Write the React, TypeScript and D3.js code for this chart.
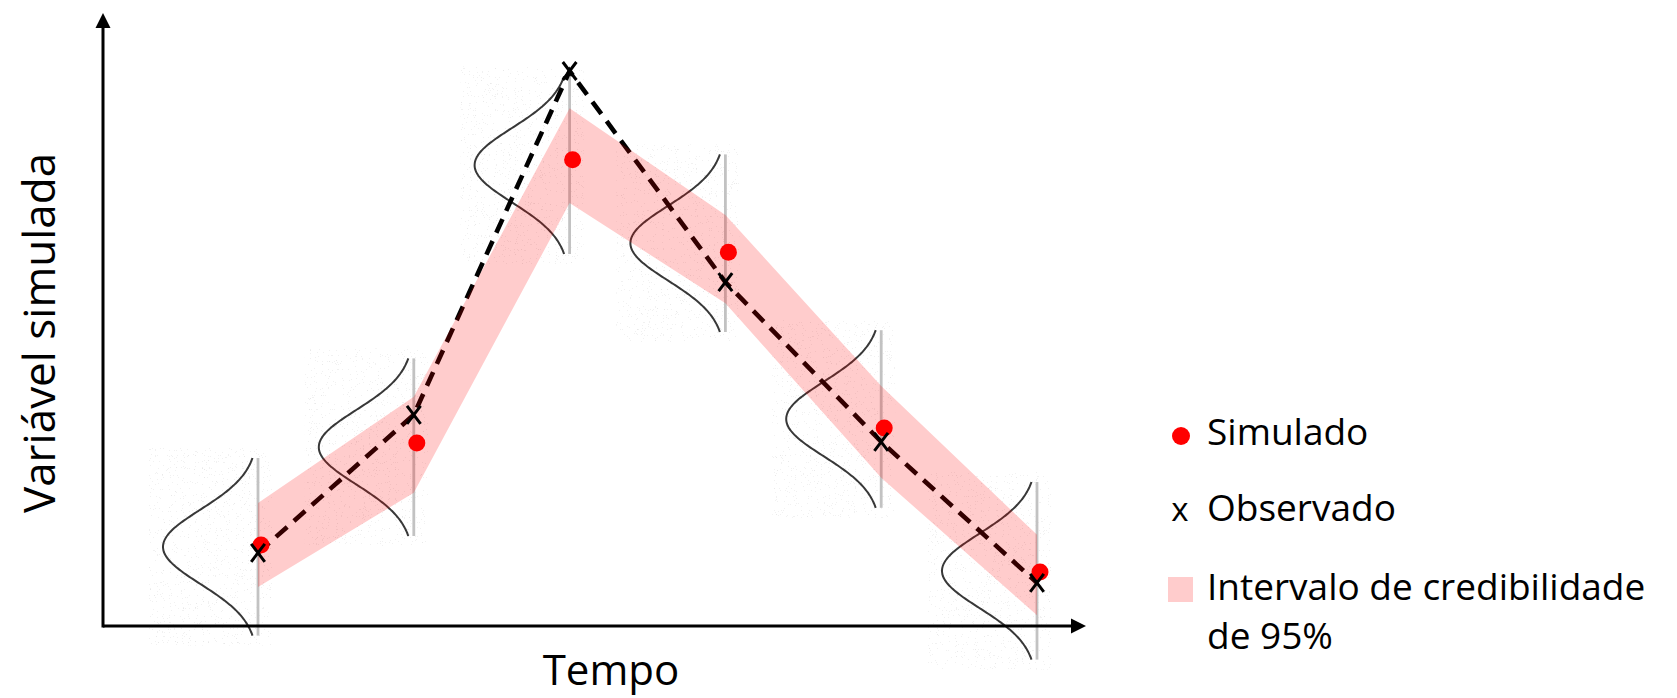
import React from 'react';
import * as d3 from 'd3';

// Time steps and series (values in arbitrary units of the simulated variable)
const timeSteps = [1, 2, 3, 4, 5, 6];
const observed = [12.2, 35.2, 92.5, 57.3, 30.7, 7.2];
const simulated = [13.5, 30.5, 77.7, 62.3, 33.0, 9.0];
const ciUpper = [20.5, 38.2, 86.3, 68.5, 40.0, 15.2];
const ciLower = [6.5, 22.2, 70.5, 53.8, 24.7, 1.8];
// Centre of the predictive density sketched at each time step
const densityCenter = [13.2, 29.8, 76.8, 63.8, 34.5, 9.2];
const densitySigma = 6.2;
const densityHalfSpan = 14.8;

const xAxisLabel = 'Tempo';
const yAxisLabel = 'Variável simulada';
const legendSimulated = 'Simulado';
const legendObserved = 'Observado';
const legendInterval = ['Intervalo de credibilidade', 'de 95%'];

const W = 1677;
const H = 698;
const FONT = "'Open Sans', 'Noto Sans', sans-serif";

export default function App() {
  const x = d3.scaleLinear().domain([1, 6]).range([258, 1037]);
  const y = d3.scaleLinear().domain([0, 100]).range([626, 26]);

  const originX = 103;
  const originY = y(0);
  const xTip = 1086;
  const yTip = 13;
  const arrowLen = 15;
  const arrowHalf = 7.5;
  const densityAmp = 95;

  const obsLine = d3
    .line<number>()
    .x((_, i) => x(timeSteps[i]))
    .y((d) => y(d))(observed) as string;

  const band = d3
    .area<number>()
    .x((_, i) => x(timeSteps[i]))
    .y0((_, i) => y(ciLower[i]))
    .y1((d) => y(d))(ciUpper) as string;

  const densityPaths = densityCenter.map((c, i) => {
    const lx = x(timeSteps[i]);
    const vals = d3.range(c - densityHalfSpan, c + densityHalfSpan + 0.001, 0.2);
    const pts: [number, number][] = vals.map((v) => [
      lx - densityAmp * Math.exp(-((v - c) ** 2) / (2 * densitySigma ** 2)),
      y(v),
    ]);
    return {
      lx,
      top: y(c + densityHalfSpan),
      bottom: y(c - densityHalfSpan),
      d: d3.line().curve(d3.curveBasis)(pts) as string,
    };
  });

  const xMark = (cx: number, cy: number, hw: number, hh: number) =>
    `M${cx - hw},${cy - hh}L${cx + hw},${cy + hh}M${cx + hw},${cy - hh}L${cx - hw},${cy + hh}`;

  return (
    <svg
      width={W}
      height={H}
      style={{ position: 'absolute', left: 0, top: 0, display: 'block', background: '#fff' }}
    >
      <defs>
        <filter id="speckle" x="0%" y="0%" width="100%" height="100%">
          <feTurbulence type="fractalNoise" baseFrequency="0.85" numOctaves="2" seed="7" result="noise" />
          <feColorMatrix
            in="noise"
            type="matrix"
            values="0 0 0 0 0.6  0 0 0 0 0.6  0 0 0 0 0.6  1 0 0 0 0"
            result="grey"
          />
          <feComponentTransfer in="grey" result="dots">
            <feFuncA type="discrete" tableValues="0 0 0 0 0 0 0 0.28 0.42 0.42" />
          </feComponentTransfer>
          <feComposite in="dots" in2="SourceAlpha" operator="in" />
        </filter>
        <filter id="soft" x="-10%" y="-5%" width="120%" height="110%">
          <feGaussianBlur stdDeviation="0.45" />
        </filter>
      </defs>

      {/* faint grain behind each density sketch */}
      {densityPaths.map((p, i) => (
        <rect
          key={`g${i}`}
          x={p.lx - densityAmp - 14}
          y={p.top - 10}
          width={densityAmp + 28}
          height={p.bottom - p.top + 20}
          fill="#000"
          filter="url(#speckle)"
        />
      ))}

      {/* density sketches */}
      {densityPaths.map((p, i) => (
        <g key={`d${i}`} filter="url(#soft)">
          <line x1={p.lx} x2={p.lx} y1={p.top} y2={p.bottom} stroke="#c2c2c2" strokeWidth={2.8} />
          <path d={p.d} fill="none" stroke="#383838" strokeWidth={2} />
        </g>
      ))}

      {/* observed series, dashed */}
      <path d={obsLine} fill="none" stroke="#000" strokeWidth={4.6} strokeDasharray="15 9" />

      {/* credible interval band */}
      <path d={band} fill="#ff0000" fillOpacity={0.2} />

      {/* simulated points */}
      {simulated.map((v, i) => (
        <circle key={`s${i}`} cx={x(timeSteps[i]) + 3} cy={y(v)} r={8.5} fill="#ff0000" />
      ))}

      {/* observed points */}
      {observed.map((v, i) => (
        <path
          key={`o${i}`}
          d={xMark(x(timeSteps[i]), y(v), 6.8, 9)}
          stroke="#000"
          strokeWidth={3}
          fill="none"
        />
      ))}

      {/* axes */}
      <line x1={originX} x2={xTip - arrowLen + 1} y1={originY} y2={originY} stroke="#000" strokeWidth={3} />
      <polygon
        points={`${xTip},${originY} ${xTip - arrowLen},${originY - arrowHalf} ${xTip - arrowLen},${originY + arrowHalf}`}
        fill="#000"
      />
      <line x1={originX} x2={originX} y1={originY + 1.5} y2={yTip + arrowLen - 1} stroke="#000" strokeWidth={3} />
      <polygon
        points={`${originX},${yTip} ${originX - arrowHalf},${yTip + arrowLen} ${originX + arrowHalf},${yTip + arrowLen}`}
        fill="#000"
      />

      {/* axis titles */}
      <text x={611} y={685} textAnchor="middle" fontFamily={FONT} fontSize={42} fill="#000">
        {xAxisLabel}
      </text>
      <text
        transform="translate(55,333) rotate(-90)"
        textAnchor="middle"
        fontFamily={FONT}
        fontSize={44}
        fill="#000"
      >
        {yAxisLabel}
      </text>

      {/* legend */}
      <g fontFamily={FONT} fontSize={37} fill="#000">
        <circle cx={1181} cy={436} r={9} fill="#ff0000" />
        <text x={1207} y={445}>{legendSimulated}</text>
        <text x={1180} y={521} textAnchor="middle" fontSize={33}>x</text>
        <text x={1207} y={521}>{legendObserved}</text>
        <rect x={1168} y={577} width={25} height={25} fill="#ff0000" fillOpacity={0.2} />
        <text x={1207} y={600}>{legendInterval[0]}</text>
        <text x={1207} y={649}>{legendInterval[1]}</text>
      </g>
    </svg>
  );
}
